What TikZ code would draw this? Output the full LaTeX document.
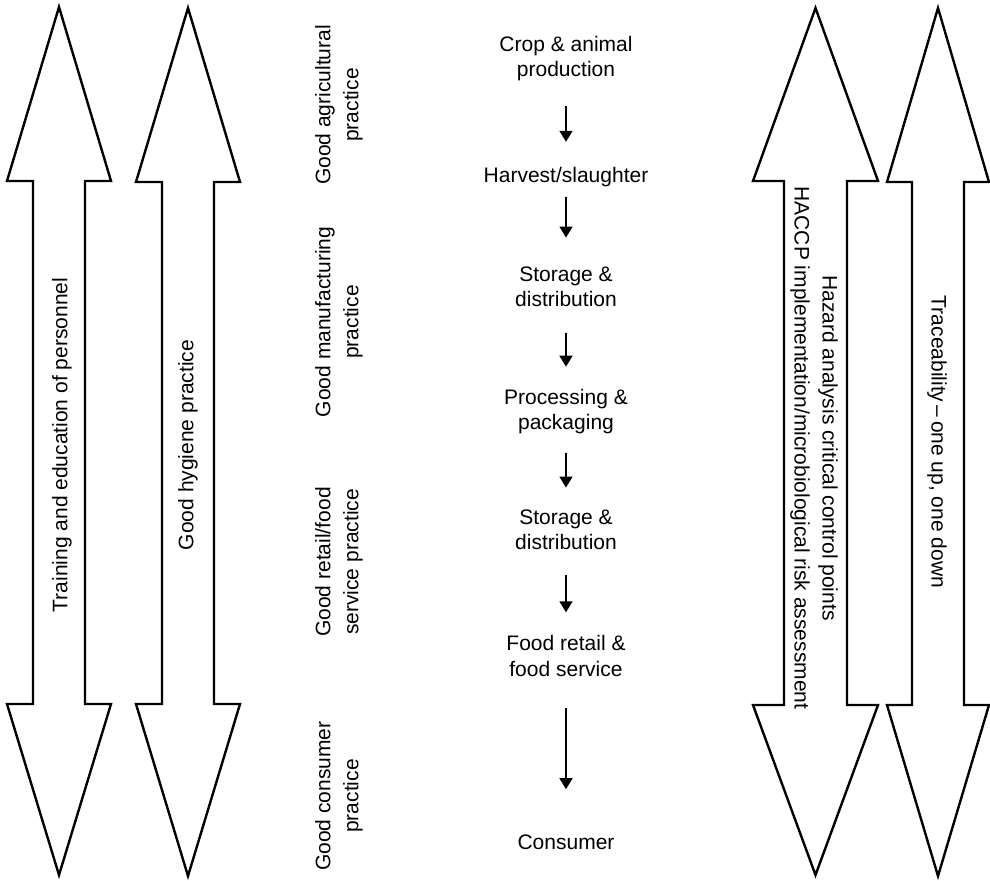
\documentclass[tikz,border=0pt]{standalone}
\usepackage{fontspec}
\setmainfont{Liberation Sans}
\usepackage{tikz}
\usetikzlibrary{arrows.meta,positioning,calc}

\begin{document}
\begin{tikzpicture}[x=0.5pt,y=-0.5pt,
    bigarrow/.style={line width=1.2pt, line join=miter},
    flow/.style={-{Triangle[width=6.5pt,length=5.5pt]}, line width=0.8pt},
    stage/.style={align=center, inner sep=0pt, font=\fontsize{10.5}{12.6}\selectfont},
    practice/.style={rotate=90, align=center, inner sep=0pt, font=\fontsize{10.5}{14}\selectfont},
    sidelabel/.style={align=center, inner sep=0pt, font=\fontsize{10.5}{14}\selectfont}]
    \useasboundingbox (0,0) rectangle (990,881);

    % Training arrow
    \draw[bigarrow] (59,7) -- (111,181) -- (85,181) -- (85,704) -- (111,704) -- (59,875)
        -- (7,704) -- (33,704) -- (33,181) -- (7,181) -- cycle;
    \node[sidelabel, rotate=90] (training) at (62,445) {Training and education of personnel};

    % Hygiene arrow
    \draw[bigarrow] (188,8) -- (240,182) -- (214,182) -- (214,704) -- (240,704) -- (188,876)
        -- (136,704) -- (162,704) -- (162,182) -- (136,182) -- cycle;
    \node[sidelabel, rotate=90] (hygiene) at (188,445) {Good hygiene practice};

    % HACCP arrow
    \draw[bigarrow] (815.5,8) -- (878,181) -- (847,181) -- (847,705) -- (878,705) -- (815.5,875)
        -- (753,705) -- (784,705) -- (784,181) -- (753,181) -- cycle;
    \node[sidelabel, rotate=-90] (haccp) at (814,448)
        {Hazard analysis critical control points\\HACCP implementation/microbiological risk assessment};

    % Traceability arrow
    \draw[bigarrow] (938,8) -- (989,182) -- (964,182) -- (964,705) -- (989,705) -- (938,876)
        -- (887,705) -- (912,705) -- (912,182) -- (887,182) -- cycle;
    \node[sidelabel, rotate=-90] (trace) at (937,442) {Traceability\,--\,one up, one down};

    % Practices
    \node[practice] (gap) at (339,105) {Good agricultural\\practice};
    \node[practice] (gmp) at (339,322) {Good manufacturing\\practice};
    \node[practice] (grp) at (339,562) {Good retail/food\\service practice};
    \node[practice] (gcp) at (339,796) {Good consumer\\practice};

    % Food chain
    \node[stage] (crop) at (566,58.5) {Crop \& animal\\production};
    \node[stage] (harvest) at (566,177) {Harvest/slaughter};
    \node[stage] (storeA) at (566,287) {Storage \&\\distribution};
    \node[stage] (proc) at (566,411.5) {Processing \&\\packaging};
    \node[stage] (storeB) at (566,530) {Storage \&\\distribution};
    \node[stage] (retail) at (566,656) {Food retail \&\\food service};
    \node[stage] (consumer) at (566,842) {Consumer};

    \draw[flow, shorten <=12.5pt, shorten >=12.5pt] (crop) -- (harvest);
    \draw[flow, shorten <=5pt, shorten >=14.5pt] (harvest) -- (storeA);
    \draw[flow, shorten <=13pt, shorten >=11pt] (storeA) -- (proc);
    \draw[flow, shorten <=9.5pt, shorten >=11pt] (proc) -- (storeB);
    \draw[flow, shorten <=12.5pt, shorten >=11.5pt] (storeB) -- (retail);
    \draw[flow, shorten <=15.5pt, shorten >=22.5pt] (retail) -- (consumer);
\end{tikzpicture}
\end{document}
